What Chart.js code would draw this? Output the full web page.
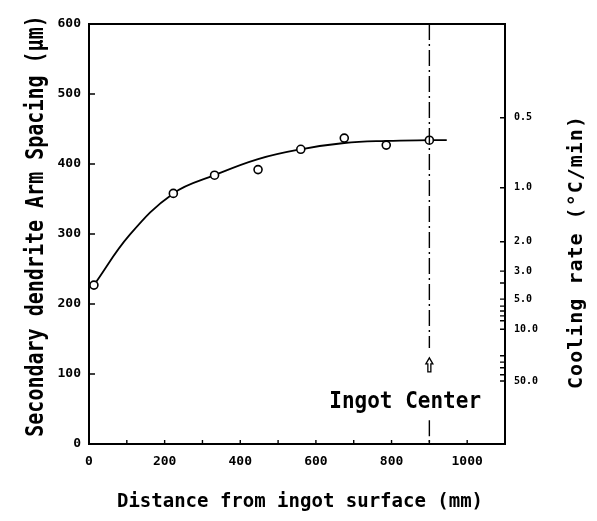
<!DOCTYPE html>
<html>
<head>
<meta charset="utf-8">
<script src="https://cdn.jsdelivr.net/npm/chart.js@4"></script>
<style>
  body { margin: 0; background: #fff; }
  #wrap { width: 597px; height: 521px; }
</style>
</head>
<body>
<div id="wrap"><canvas id="dasChart" width="597" height="521"></canvas></div>
<script>
// measured points (distance from surface mm, DAS um)
const pointDist = [13, 223, 332, 447, 560, 675, 786, 900];
const pointDas = [227, 358, 384, 392, 421, 437, 427, 434];

// hand drawn fit curve
const curveDist = [13, 108, 223, 332, 447, 560, 675, 786, 900, 946];
const curveDas = [227, 299, 358, 384, 407, 421, 430, 433, 434, 434];

// cooling rate scale on the right side, placed at DAS values
const coolingLabels = ["0.5", "1.0", "2.0", "3.0", "", "5.0", "", "", "", "", "10.0", "", "", "", "", "50.0"];
const coolingDas = [466, 366, 289, 247, 230, 207, 197, 190, 183, 176, 164, 126, 117, 109, 99, 90];

const centerDist = 900;
const centerText = "Ingot Center";

const FONT = "'DejaVu Sans Mono', monospace";

function drawText(ctx, text, x, y, rot, font, sy, spacing) {
  ctx.save();
  ctx.translate(x, y);
  ctx.rotate(rot);
  ctx.scale(1, sy);
  ctx.font = font;
  ctx.letterSpacing = spacing || "0px";
  ctx.textAlign = "center";
  ctx.textBaseline = "alphabetic";
  ctx.fillStyle = "#000";
  ctx.fillText(text, 0, 0);
  ctx.restore();
}

// frame, inward ticks, ingot center line and titles
const decorPlugin = {
  id: "decor",
  afterDraw(chart) {
    const ctx = chart.ctx;
    const { left, right, top, bottom } = chart.chartArea;
    const xs = chart.scales.x, ys = chart.scales.y, yr = chart.scales.y2;

    ctx.save();
    ctx.strokeStyle = "#000";
    ctx.lineWidth = 2;
    ctx.strokeRect(left, top, right - left, bottom - top);

    ctx.lineWidth = 1.4;
    ctx.beginPath();
    ys.ticks.forEach(t => {
      const py = ys.getPixelForValue(t.value);
      ctx.moveTo(left, py); ctx.lineTo(left + 6, py);
    });
    xs.ticks.forEach(t => {
      const px = xs.getPixelForValue(t.value);
      ctx.moveTo(px, bottom); ctx.lineTo(px, bottom - 4);
    });
    yr.ticks.forEach(t => {
      const py = yr.getPixelForValue(t.value);
      ctx.moveTo(right, py); ctx.lineTo(right - 5, py);
    });
    ctx.stroke();

    // dash-dot line at the ingot center
    const cx = xs.getPixelForValue(centerDist);
    ctx.lineWidth = 1.4;
    ctx.setLineDash([16, 4, 2, 4]);
    ctx.beginPath();
    ctx.moveTo(cx, top); ctx.lineTo(cx, ys.getPixelForValue(137));
    ctx.moveTo(cx, ys.getPixelForValue(34)); ctx.lineTo(cx, bottom);
    ctx.stroke();
    ctx.setLineDash([]);

    // hollow arrow
    const ay = ys.getPixelForValue(123), ab = ys.getPixelForValue(103);
    ctx.lineWidth = 1.3;
    ctx.beginPath();
    ctx.moveTo(cx, ay);
    ctx.lineTo(cx + 3.5, ay + 6);
    ctx.lineTo(cx + 1.5, ay + 6);
    ctx.lineTo(cx + 1.5, ab);
    ctx.lineTo(cx - 1.5, ab);
    ctx.lineTo(cx - 1.5, ay + 6);
    ctx.lineTo(cx - 3.5, ay + 6);
    ctx.closePath();
    ctx.stroke();
    ctx.restore();

    drawText(ctx, centerText, xs.getPixelForValue(836), ys.getPixelForValue(51), 0, "bold 21px " + FONT, 1.1);
    drawText(ctx, "Secondary dendrite Arm Spacing (μm)", 43, 226, -Math.PI / 2, "bold 20px " + FONT, 1.2);
    drawText(ctx, "Cooling rate (°C/min)", 582, 252, -Math.PI / 2, "bold 20px " + FONT, 1, "1px");
    drawText(ctx, "Distance from ingot surface (mm)", 300, 507, 0, "bold 19px " + FONT, 1);
  }
};

const ctx = document.getElementById("dasChart").getContext("2d");

new Chart(ctx, {
  type: "scatter",
  data: {
    datasets: [
      {
        data: pointDist.map((d, i) => ({ x: d, y: pointDas[i] })),
        pointRadius: 4,
        pointBorderWidth: 1.6,
        pointBorderColor: "#000",
        pointBackgroundColor: "#fff",
        showLine: false,
        order: 0
      },
      {
        data: curveDist.map((d, i) => ({ x: d, y: curveDas[i] })),
        showLine: true,
        borderColor: "#000",
        borderWidth: 1.8,
        pointRadius: 0,
        tension: 0.4,
        order: 1
      }
    ]
  },
  options: {
    responsive: false,
    animation: false,
    devicePixelRatio: 1,
    layout: { padding: { top: 24, left: 0, right: 0, bottom: 0 } },
    plugins: { legend: { display: false }, tooltip: { enabled: false } },
    scales: {
      x: {
        type: "linear",
        min: 0,
        max: 1100,
        grid: { display: false, drawTicks: false, tickLength: 0 },
        border: { display: false },
        ticks: {
          stepSize: 100,
          padding: 10,
          maxRotation: 0,
          autoSkip: false,
          color: "#000",
          font: { family: FONT, size: 13, weight: "bold" },
          callback: v => (v % 200 === 0 && v <= 1000 ? v : "")
        },
        afterFit: s => { s.height = 77; }
      },
      y: {
        type: "linear",
        position: "left",
        min: 0,
        max: 600,
        grid: { display: false, drawTicks: false, tickLength: 0 },
        border: { display: false },
        ticks: {
          stepSize: 100,
          padding: 8,
          color: "#000",
          font: { family: FONT, size: 13, weight: "bold" }
        },
        afterFit: s => { s.width = 89; }
      },
      y2: {
        type: "linear",
        position: "right",
        min: 0,
        max: 600,
        grid: { display: false, drawTicks: false, tickLength: 0 },
        border: { display: false },
        afterBuildTicks: s => {
          s.ticks = coolingDas.map(v => ({ value: v })).sort((a, b) => a.value - b.value);
        },
        ticks: {
          autoSkip: false,
          padding: 9,
          color: "#000",
          font: { family: FONT, size: 10, weight: "bold" },
          callback: v => coolingLabels[coolingDas.indexOf(v)]
        },
        afterFit: s => { s.width = 92; }
      }
    }
  },
  plugins: [decorPlugin]
});
</script>
</body>
</html>
